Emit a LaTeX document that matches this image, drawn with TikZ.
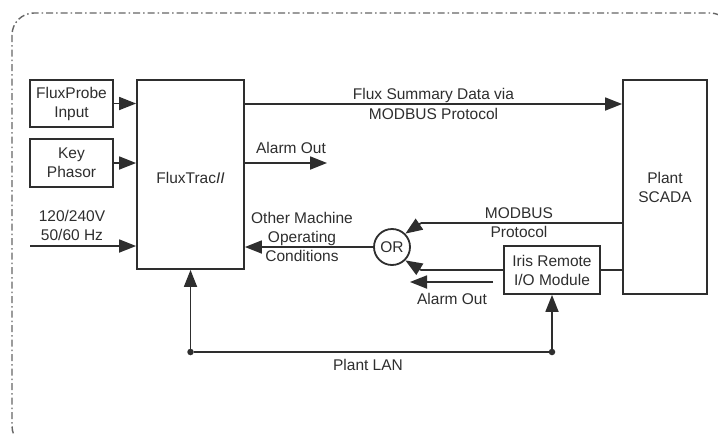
\documentclass[tikz,border=0pt]{standalone}
\usepackage{fontspec}
\setmainfont{Liberation Sans}
\usetikzlibrary{arrows.meta,shapes.geometric}
\definecolor{ink}{HTML}{2E2E2E}
\begin{document}
\begin{tikzpicture}[x=1pt,y=-1pt,
  every node/.style={font=\fontsize{15.5}{19}\selectfont,text=ink,align=center,inner sep=0pt},
  blk/.style={draw=ink,line width=1.8pt,minimum width=#1},
  wire/.style={draw=ink,line width=1.8pt},
  arr/.style={wire,-{Triangle[length=17pt,width=13pt]}},
  dotpt/.style={circle,fill=ink,minimum size=6.5pt,inner sep=0pt}
]
\useasboundingbox (0,0) rectangle (718,434);
\clip (0,0) rectangle (718,434);
\fill[white] (0,0) rectangle (718,434);
\draw[gray!80!black,line width=1.4pt,rounded corners=22pt,dash pattern=on 7pt off 3pt on 1.5pt off 3pt] (12,13) rectangle (732,448);

\node[blk=83pt,minimum height=47pt] (fp) at (71.5,103.5) {FluxProbe\\Input};
\node[blk=83pt,minimum height=48pt] (kp) at (71.5,163) {Key\\Phasor};
\node[blk=107pt,minimum height=189pt] (ft) at (190.5,174.5) {};
\node at (190.5,178) {FluxTrac\textit{II}};
\node[blk=84pt,minimum height=214pt] (sc) at (665,187) {Plant\\SCADA};
\node[blk=96pt,minimum height=48pt] (ir) at (552,270) {Iris Remote\\I/O Module};
\node[draw=ink,line width=1.8pt,circle,minimum size=36pt] (or) at (392,247) {OR};

\coordinate (pw) at (30,246);
\coordinate (ao) at (327,163);
\coordinate (mb) at (421,223);
\coordinate (io) at (421,270);
\coordinate (la1) at (493,282);
\coordinate (la2) at (410,282);
\node[dotpt] (d1) at (190.5,352) {};
\node[dotpt] (d2) at (552,352) {};

\draw[arr] (fp.east) -- (ft.west |- fp.east);
\draw[arr] (kp.east) -- (ft.west |- kp.east);
\draw[arr] (pw) -- (ft.west |- pw);
\draw[arr] (ft.east |- ao) -- (ao);
\draw[arr] (ft.east |- 0,104) -- (sc.west |- 0,104);
\draw[arr] (or.west) -- (ft.east |- or.west);
\draw[wire] (sc.west |- mb) -- (mb);
\draw[arr] (mb) -- (or.45);
\draw[wire] (ir.west |- io) -- (io);
\draw[arr] (io) -- (or.-45);
\draw[wire] (ir.east) -- (sc.west |- ir.east);
\draw[arr] (la1) -- (la2);
\draw[wire] (d1) -- (d2);
\draw[arr] (d1) -- (ft.south);
\draw[arr] (d2) -- (ir.south);

\node at (291,148) {Alarm Out};
\node at (433.5,95) {Flux Summary Data via};
\node at (433.5,114) {MODBUS Protocol};
\node at (72,225) {120/240V\\50/60 Hz};
\node at (302,237) {Other Machine\\Operating\\Conditions};
\node at (519,222.5) {MODBUS\\Protocol};
\node at (452,299) {Alarm Out};
\node at (368,365) {Plant LAN};
\end{tikzpicture}
\end{document}
